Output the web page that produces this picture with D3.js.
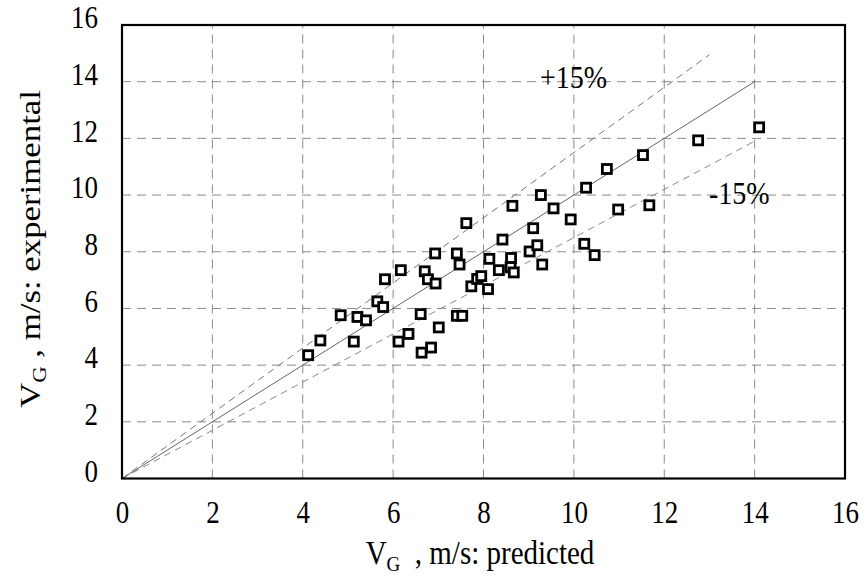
<!DOCTYPE html>
<html>
<head>
<meta charset="utf-8">
<script src="https://cdn.jsdelivr.net/npm/d3@7"></script>
<style>
  body { margin: 0; background: #fff; }
  svg text { font-family: "Liberation Serif", "DejaVu Serif", serif; fill: #000; }
</style>
</head>
<body>
<div id="chart"></div>
<script>
  // predicted vs experimental gas velocity, m/s
  var predicted = [4.12, 4.39, 4.84, 5.13, 5.21, 5.40, 5.65, 5.78, 5.82, 6.17,
                   6.12, 6.34, 6.61, 6.63, 6.84, 7.01, 6.70, 6.77, 6.94, 6.93,
                   7.41, 7.47, 7.41, 7.53, 7.62, 7.73, 7.86, 7.95, 8.10, 8.13,
                   8.42, 8.34, 8.61, 8.60, 8.67, 8.64, 9.02, 9.10, 9.19, 9.30,
                   9.27, 9.55, 9.93, 10.27, 10.23, 10.46, 10.73, 10.98, 11.53, 11.67,
                   12.75, 14.10];
  var experimental = [4.35, 4.87, 5.76, 4.83, 5.70, 5.58, 6.25, 6.05, 7.03, 7.35,
                      4.83, 5.10, 5.80, 4.44, 4.62, 5.33, 7.31, 7.03, 6.88, 7.94,
                      7.94, 7.55, 5.74, 5.74, 9.01, 6.78, 7.04, 7.14, 6.68, 7.75,
                      8.43, 7.35, 7.78, 7.46, 7.27, 9.62, 8.01, 8.83, 8.23, 7.55,
                      10.00, 9.53, 9.14, 10.26, 8.28, 7.88, 10.92, 9.49, 11.41, 9.64,
                      11.93, 12.39];
  var ticks = [0, 2, 4, 6, 8, 10, 12, 14, 16];

  // x extent of each reference line
  var perfectLine = [0, 14];
  var upperLine = [0, 13];   // +15%
  var lowerLine = [0, 14];   // -15%

  var width = 866, height = 582;
  var margin = { top: 25, right: 21, bottom: 103.5, left: 122 };
  var stretch = 1.14; // the scanned lettering is a bit taller than wide

  var svg = d3.select("#chart").append("svg")
    .attr("width", width).attr("height", height);

  svg.append("rect").attr("width", width).attr("height", height).attr("fill", "#fff");

  var x = d3.scaleLinear().domain([0, 16]).range([margin.left, width - margin.right]);
  var y = d3.scaleLinear().domain([0, 16]).range([height - margin.bottom, margin.top]);

  var grid = svg.append("g");
  grid.selectAll(".vg").data(ticks.slice(1, -1)).enter().append("line")
    .attr("x1", function(d) { return x(d); }).attr("x2", function(d) { return x(d); })
    .attr("y1", y(0)).attr("y2", y(16))
    .attr("stroke", "#8a8a8a").attr("stroke-width", 1).attr("stroke-dasharray", "9,6");
  grid.selectAll(".hg").data(ticks.slice(1, -1)).enter().append("line")
    .attr("y1", function(d) { return y(d); }).attr("y2", function(d) { return y(d); })
    .attr("x1", x(0)).attr("x2", x(16))
    .attr("stroke", "#8a8a8a").attr("stroke-width", 1).attr("stroke-dasharray", "9,6");

  var line = d3.line().x(function(d) { return x(d[0]); }).y(function(d) { return y(d[1]); });

  svg.append("path")
    .attr("d", line(perfectLine.map(function(v) { return [v, v]; })))
    .attr("stroke", "#666").attr("stroke-width", 1).attr("fill", "none");
  svg.append("path")
    .attr("d", line(upperLine.map(function(v) { return [v, v * 1.15]; })))
    .attr("stroke", "#777").attr("stroke-width", 1).attr("fill", "none")
    .attr("stroke-dasharray", "7,5");
  svg.append("path")
    .attr("d", line(lowerLine.map(function(v) { return [v, v * 0.85]; })))
    .attr("stroke", "#888").attr("stroke-width", 1).attr("fill", "none")
    .attr("stroke-dasharray", "7,5");

  // frame
  svg.append("rect")
    .attr("x", x(0)).attr("y", y(16))
    .attr("width", x(16) - x(0)).attr("height", y(0) - y(16))
    .attr("fill", "none").attr("stroke", "#000").attr("stroke-width", 2.2);

  // axes (labels only, the frame is drawn above)
  var xAxis = svg.append("g").attr("transform", "translate(0," + y(0) + ")")
    .call(d3.axisBottom(x).tickValues(ticks).tickSize(0).tickPadding(20));
  var yAxis = svg.append("g").attr("transform", "translate(" + x(0) + ",0)")
    .call(d3.axisLeft(y).tickValues(ticks).tickSize(0).tickPadding(24));
  [xAxis, yAxis].forEach(function(a) {
    a.select(".domain").remove();
    a.attr("font-family", "Liberation Serif");
    a.selectAll("text").attr("font-family", "Liberation Serif")
      .attr("font-size", 27).attr("fill", "#000")
      .attr("transform", "scale(1," + stretch + ")");
  });
  yAxis.selectAll("text").attr("dy", 2.5);

  // points
  var pts = predicted.map(function(p, i) { return [p, experimental[i]]; });
  svg.append("g").selectAll("rect").data(pts).enter().append("rect")
    .attr("x", function(d) { return x(d[0]) - 4.5; })
    .attr("y", function(d) { return y(d[1]) - 4.5; })
    .attr("width", 9).attr("height", 9)
    .attr("fill", "#fff").attr("stroke", "#000").attr("stroke-width", 2.8);

  // band labels
  svg.append("text").attr("transform", "translate(540,88) scale(1," + stretch + ")")
    .attr("font-size", 28).text("+15%");
  svg.append("text").attr("transform", "translate(709,204) scale(1," + stretch + ")")
    .attr("font-size", 28).text("-15%");

  // axis titles
  var xt = svg.append("text")
    .attr("transform", "translate(480,564) scale(1," + stretch + ")")
    .attr("text-anchor", "middle").attr("font-size", 29);
  xt.append("tspan").text("V");
  xt.append("tspan").attr("font-size", 19).attr("dy", 6).text("G");
  xt.append("tspan").attr("dy", -6).text("\u00a0 , m/s: predicted");

  var yt = svg.append("text")
    .attr("transform", "translate(40,249) scale(1,1.2) rotate(-90)")
    .attr("text-anchor", "middle").attr("font-size", 29);
  yt.append("tspan").text("V");
  yt.append("tspan").attr("font-size", 19).attr("dy", 6).text("G");
  yt.append("tspan").attr("dy", -6).text(" , m/s: experimental");
</script>
</body>
</html>
